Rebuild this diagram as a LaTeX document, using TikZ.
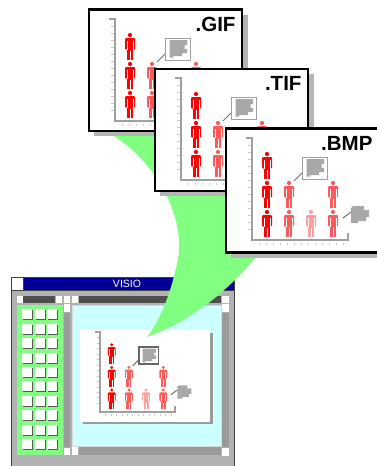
\documentclass[tikz,border=0pt]{standalone}
\usepackage{fontspec}
\setmainfont{Liberation Sans}

\definecolor{redA}{HTML}{FF0000}
\definecolor{redB}{HTML}{FF5A5A}
\definecolor{redC}{HTML}{FFA0A0}
\definecolor{axisgray}{HTML}{A0A0A0}
\definecolor{tickgray}{HTML}{C8C8C8}
\definecolor{blobgray}{HTML}{A8A8A8}
\definecolor{shadegray}{HTML}{B4B4B4}
\definecolor{wingray}{HTML}{B2B2B2}
\definecolor{bargray}{HTML}{9A9A9A}
\definecolor{darkbar}{HTML}{4D4D4D}
\definecolor{winblue}{HTML}{000099}
\definecolor{canvas}{HTML}{CCFFFF}
\definecolor{beamgreen}{HTML}{80FF80}

\tikzset{
  picframe/.style={fill=white, draw=black, line width=2.4pt},
  dropshade/.style={fill=shadegray},
  axline/.style={draw=axisgray, line width=2.2pt},
  axtick/.style={draw=tickgray, line width=.7pt},
  callout/.style={draw=axisgray, fill=white, line width=1pt},
  pagecallout/.style={draw=black!60, fill=white, line width=1.6pt},
  calltail/.style={draw=black!55, line width=1pt},
  blob/.style={fill=blobgray},
  ext/.style={anchor=base east, font=\fontsize{20.5}{24}\selectfont\bfseries},
  wintitle/.style={text=white, font=\fontsize{10.5}{12}\selectfont},
  winline/.style={draw=black!75, line width=1pt},
}

% one little person, head centre at (#1,#2)
\newcommand{\person}[3]{%
  \begin{scope}[shift={(#1,#2)}]
    \fill[#3] (0,0) circle (2.1);
    \fill[#3, rounded corners=1pt] (-5,3) rectangle (5,14.5);
    \fill[#3] (-3.2,14) rectangle (3.2,24.5);
    \draw[white, line width=.5pt] (-3,6) -- (-3,14.5) (3,6) -- (3,14.5) (0,16) -- (0,24.5);
  \end{scope}}

% the chart, drawn from the top left corner of its sheet
\newcommand{\chart}[1]{%
  \draw[axline] (21,10) -- (27,10) -- (27,112) -- (123,112) -- (123,105);
  \foreach \t in {17,24,...,105} \draw[axtick] (23,\t) -- (25.5,\t);
  \foreach \t in {34,41,...,120} \draw[axtick] (\t,114.5) -- (\t,117);
  \foreach \r in {26,55,84} \person{42}{\r}{redA};
  \foreach \r in {55,84} {\person{64}{\r}{redB} \person{108}{\r}{redB}}
  \person{86}{84}{redC}
  % callouts
  \draw[#1] (77,29) rectangle (102,51);
  \draw[calltail] (77,45) -- (69,53);
  \fill[blob] (81.5,31) -- (99,31) -- (99,36) -- (96.5,36) -- (96.5,40) -- (99,40) -- (99,44)
    -- (94,44) -- (94,47) -- (85,47) -- (85,48.5) -- (81.5,48.5) -- cycle;
  \draw[calltail] (126,84) -- (118,90);
  \fill[blob] (128,78) -- (139,78) -- (139,82) -- (144,82) -- (144,89) -- (141,89) -- (141,93)
    -- (133,93) -- (133,95) -- (126,95) -- (126,80) -- cycle;
}

\begin{document}
\begin{tikzpicture}[x=1pt, y=-1pt]
\useasboundingbox (0,0) rectangle (377,466);

% the Visio window
\fill[wingray] (11,277) rectangle (234,470);
\fill[winblue] (23,277) rectangle (234,290);
\draw[winline, fill=white] (11,277) rectangle (23,290);
\draw[winline] (11,470) -- (11,277) -- (234,277) -- (234,470);
\draw[winline] (11,290.5) -- (234,290.5);
\node[wintitle] (title) at (127,283.5) {VISIO};

% toolbars and scroll bars
\fill[white] (17,296) rectangle (23,303);
\fill[darkbar] (23,296) rectangle (55,303);
\fill[white] (56,296) rectangle (62,303);
\fill[white] (64,296) rectangle (70,303);
\fill[white] (64,304) rectangle (70,312);
\fill[white] (72,296) rectangle (78,303);
\fill[darkbar] (79,296) rectangle (221,303);
\fill[white] (222,296) rectangle (229,303);
\fill[white] (222,304) rectangle (229,312);
\fill[bargray] (64,313) rectangle (70,447);
\fill[white] (64,448) rectangle (70,455);
\fill[bargray] (222,313) rectangle (229,447);
\fill[white] (222,448) rectangle (229,456);
\fill[bargray] (79,447) rectangle (221,455);
\fill[white] (72,447) rectangle (78,455);

% stencil palette
\fill[beamgreen] (17,305) rectangle (63,455);
\foreach \r in {0,...,9}
  \foreach \c in {0,1,2} {
    \fill[black!65] (23+12.5*\c,310.3+14.4*\r) rectangle ++(10,10);
    \fill[white] (22+12.5*\c,309.3+14.4*\r) rectangle ++(10,10);
  }

% drawing area with its page
\draw[draw=black!15, fill=canvas, line width=1pt] (72,305) rectangle (221,446);
\fill[bargray] (82.5,332.5) rectangle (212.5,424);
\fill[white] (80,330) rectangle (210,421.5);
\begin{scope}[shift={(79,324.5)}, scale=.78]
  \chart{pagecallout}
\end{scope}

% green beam from the files down to the page
\fill[beamgreen] (100,128) .. controls (155,155) and (190,220) .. (176,268)
  .. controls (170,295) and (160,320) .. (147,337)
  .. controls (190,322) and (230,290) .. (262,250)
  -- (262,200) -- (200,130) -- (120,100) -- cycle;

% .GIF
\fill[dropshade] (94,14.5) rectangle (247.5,136);
\draw[picframe] (89,9.5) rectangle (242,131);
\begin{scope}[shift={(88,9)}]
  \chart{callout}
\end{scope}
\node[ext] (giflabel) at (239,31) {.GIF};

% .TIF
\fill[dropshade] (160,74) rectangle (313.5,196);
\draw[picframe] (155,69) rectangle (308,191);
\begin{scope}[shift={(154,68)}]
  \chart{callout}
\end{scope}
\node[ext] (tiflabel) at (305,90.5) {.TIF};

% .BMP
\fill[dropshade] (231,133.5) rectangle (384.5,257.5);
\draw[picframe] (226,128.5) rectangle (379,252.5);
\begin{scope}[shift={(225,128)}]
  \chart{callout}
\end{scope}
\node[ext] (bmplabel) at (376,150.5) {.BMP};
\end{tikzpicture}
\end{document}
